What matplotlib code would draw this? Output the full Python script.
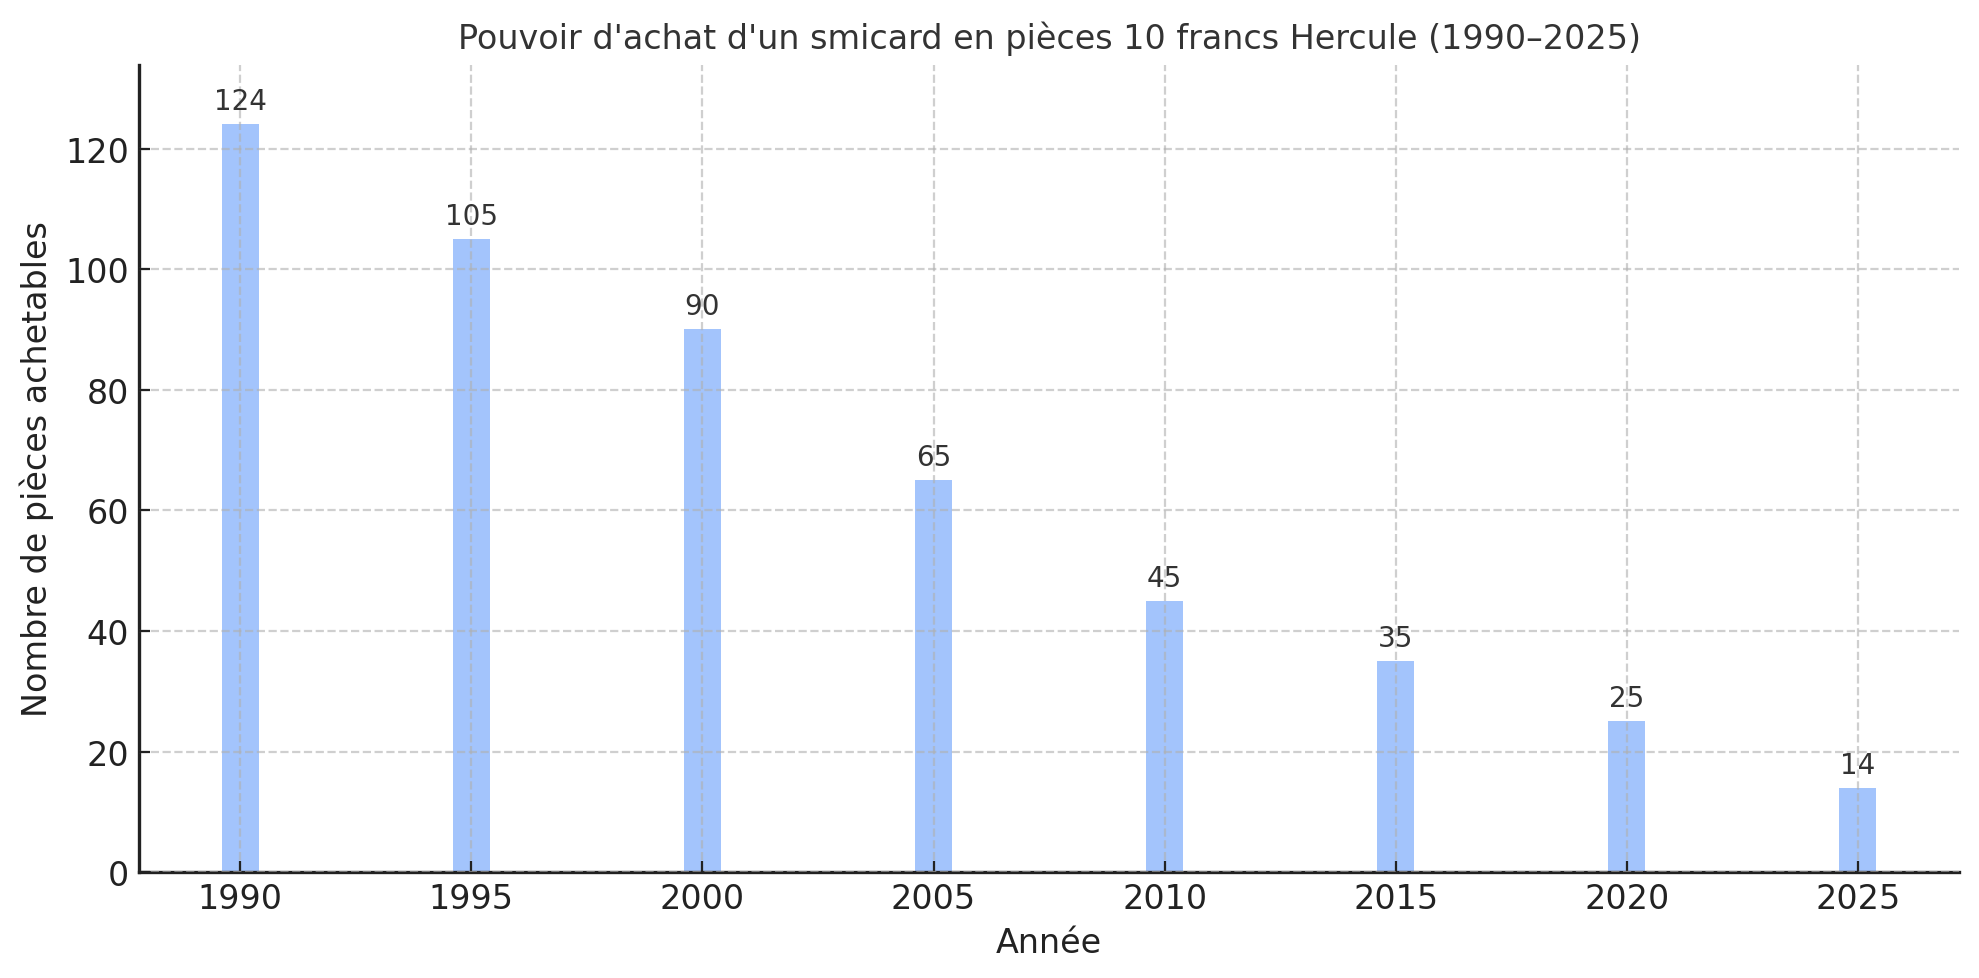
import matplotlib
matplotlib.use("Agg")
import matplotlib.pyplot as plt

years = [1990, 1995, 2000, 2005, 2010, 2015, 2020, 2025]
pieces = [124, 105, 90, 65, 45, 35, 25, 14]
title = "Pouvoir d'achat d'un smicard en pièces 10 francs Hercule (1990–2025)"
xlabel = "Année"
ylabel = "Nombre de pièces achetables"

plt.rcParams['font.family'] = ['DejaVu Sans']
fig = plt.figure(figsize=(9.895, 4.895), dpi=200)
ax = fig.add_axes([0.0702, 0.108, 0.9198, 0.825])

bars = ax.bar(years, pieces, width=0.8, color="#a3c4fc", zorder=2)
for x, v in zip(years, pieces):
    ax.text(x, v + 1.5, str(v), ha="center", va="bottom", fontsize=10, color="#333333", zorder=3)

ax.set_ylim(0, max(pieces) * 1.08)
ax.set_xticks(years)
ax.set_title(title, fontsize=12, color="#333333")
ax.set_xlabel(xlabel, fontsize=12, color="#222222")
ax.set_ylabel(ylabel, fontsize=12, color="#222222")
ax.grid(True, linestyle="--", color="#b0b0b0", alpha=0.6, linewidth=0.8, zorder=0)
ax.set_axisbelow(False)
for s in ["top", "right"]:
    ax.spines[s].set_visible(False)
for s in ["left", "bottom"]:
    ax.spines[s].set_linewidth(1.2)
    ax.spines[s].set_color("#222222")
ax.tick_params(direction="in", labelsize=12, colors="#222222", length=4)

fig.savefig("out.png", dpi=200)
